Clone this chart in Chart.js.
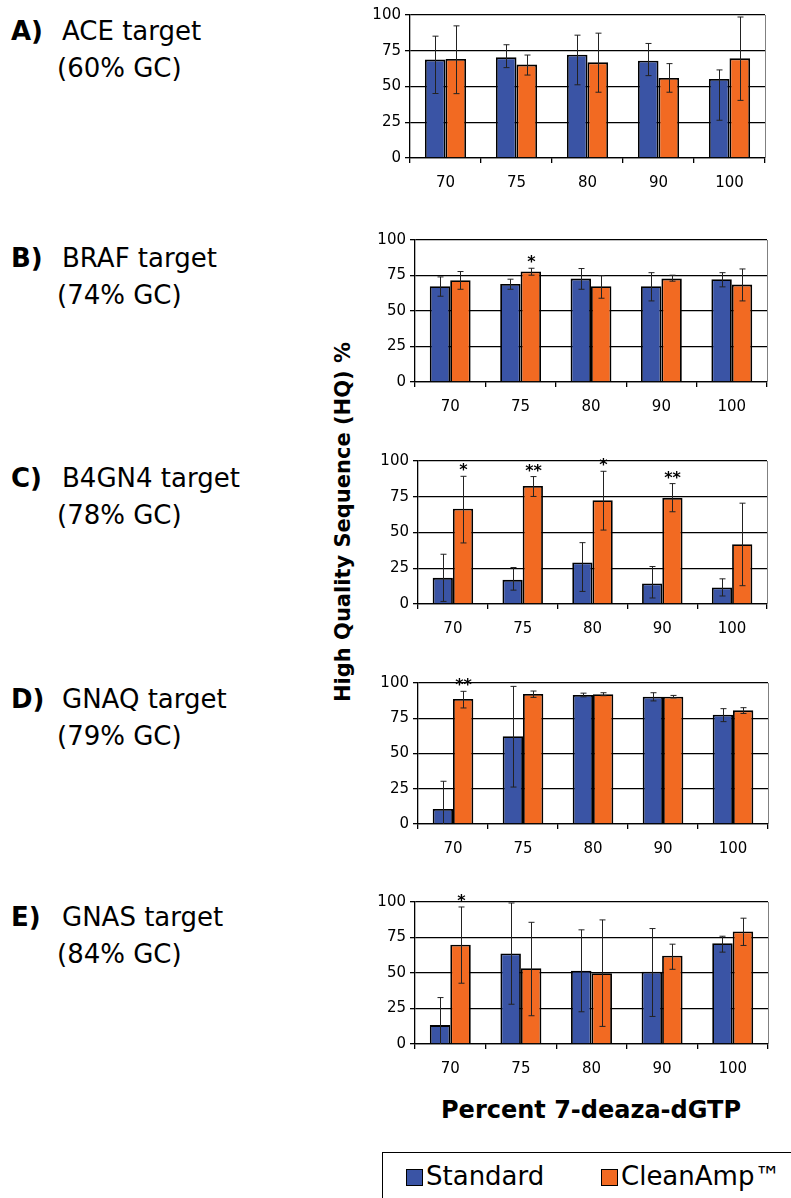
<!DOCTYPE html>
<html>
<head>
<meta charset="utf-8">
<script src="https://cdn.jsdelivr.net/npm/chart.js@4.4.0/dist/chart.umd.min.js"></script>
<style>
  body { margin: 0; background: #fff; }
  #page { position: relative; width: 791px; height: 1198px; overflow: hidden; font-family: "DejaVu Sans", sans-serif; color: #000; }
  #page canvas { position: absolute; }
  .lbl { position: absolute; font-size: 26px; line-height: 26px; white-space: nowrap; }
  .ttl { position: absolute; font-weight: bold; white-space: nowrap; }
  #legend { position: absolute; left: 382px; top: 1152px; width: 500px; height: 100px; border: 1.5px solid #000; }
  .sw { position: absolute; width: 15px; height: 15px; border: 1.5px solid #000; }
</style>
</head>
<body>
<div id="page"></div>
<script>
const categories = ['70', '75', '80', '90', '100'];
const yTicks = [0, 25, 50, 75, 100];

// A) ACE
const aceStandard = [68.8, 70.4, 72.2, 68.0, 55.3];
const aceStandardLow = [45.1, 63.2, 51.2, 57.6, 26.4];
const aceStandardHigh = [85.2, 79.2, 85.9, 80.1, 61.6];
const aceClean = [69.2, 65.3, 66.9, 56.0, 69.7];
const aceCleanLow = [45.0, 58.0, 46.0, 46.0, 40.3];
const aceCleanHigh = [92.4, 72.0, 87.3, 66.0, 98.6];
const aceStars = ['', '', '', '', ''];

// B) BRAF
const brafStandard = [67.4, 69.1, 72.8, 67.4, 72.4];
const brafStandardLow = [60.4, 65.3, 65.3, 57.1, 67.0];
const brafStandardHigh = [74.0, 72.4, 79.9, 77.0, 77.0];
const brafClean = [71.7, 77.8, 67.4, 72.8, 68.6];
const brafCleanLow = [65.3, 75.2, 59.0, 71.0, 57.1];
const brafCleanHigh = [77.8, 80.1, 74.9, 75.2, 79.6];
const brafStars = ['', '*', '', '', ''];

// C) B4GN4
const b4gn4Standard = [18.3, 16.9, 29.0, 14.4, 11.6];
const b4gn4StandardLow = [1.8, 9.7, 8.8, 4.2, 5.6];
const b4gn4StandardHigh = [34.8, 25.5, 42.9, 26.2, 17.6];
const b4gn4Clean = [66.6, 82.6, 72.6, 74.2, 41.8];
const b4gn4CleanLow = [42.7, 75.2, 51.7, 64.5, 12.8];
const b4gn4CleanHigh = [89.3, 89.1, 92.8, 84.2, 70.5];
const b4gn4Stars = ['*', '**', '*', '**', ''];

// D) GNAQ
const gnaqStandard = [10.6, 62.2, 91.5, 90.3, 77.5];
const gnaqStandardLow = [0, 26.2, 90.2, 87.3, 72.6];
const gnaqStandardHigh = [30.3, 97.6, 92.8, 93.1, 81.8];
const gnaqClean = [88.7, 92.2, 92.1, 90.3, 80.6];
const gnaqCleanLow = [82.3, 89.8, 91.0, 89.4, 78.4];
const gnaqCleanHigh = [94.1, 94.3, 93.1, 91.2, 82.5];
const gnaqStars = ['**', '', '', '', ''];

// E) GNAS
const gnasStandard = [13.3, 63.8, 51.6, 50.9, 71.0];
const gnasStandardLow = [0, 28.0, 22.7, 19.4, 64.7];
const gnasStandardHigh = [32.7, 99.3, 80.4, 81.3, 75.9];
const gnasClean = [69.9, 53.3, 49.8, 62.1, 79.2];
const gnasCleanLow = [42.8, 19.9, 12.4, 52.6, 69.4];
const gnasCleanHigh = [96.5, 85.7, 87.4, 70.3, 88.6];
const gnasStars = ['*', '', '', '', ''];

const panelLetters = ['A)', 'B)', 'C)', 'D)', 'E)'];
const panelNames = ['ACE target', 'BRAF target', 'B4GN4 target', 'GNAQ target', 'GNAS target'];
const panelGC = ['(60% GC)', '(74% GC)', '(78% GC)', '(79% GC)', '(84% GC)'];
const seriesNames = ['Standard', 'CleanAmp\u2122'];

const panelData = [
  [aceStandard, aceStandardLow, aceStandardHigh, aceClean, aceCleanLow, aceCleanHigh, aceStars],
  [brafStandard, brafStandardLow, brafStandardHigh, brafClean, brafCleanLow, brafCleanHigh, brafStars],
  [b4gn4Standard, b4gn4StandardLow, b4gn4StandardHigh, b4gn4Clean, b4gn4CleanLow, b4gn4CleanHigh, b4gn4Stars],
  [gnaqStandard, gnaqStandardLow, gnaqStandardHigh, gnaqClean, gnaqCleanLow, gnaqCleanHigh, gnaqStars],
  [gnasStandard, gnasStandardLow, gnasStandardHigh, gnasClean, gnasCleanLow, gnasCleanHigh, gnasStars]
];

// layout: plot area [left, top, right, bottom] and label baseline per panel
const layout = [
  { plot: [410, 14, 765, 158], base: 40 },
  { plot: [415, 240, 767, 382], base: 267 },
  { plot: [418, 461, 767, 604], base: 487 },
  { plot: [418, 683, 768, 824], base: 708 },
  { plot: [415, 902, 768, 1044], base: 926 }
];

const BLUE = '#3a54a5';
const ORANGE = '#f26a22';
const CANVAS_LEFT = 355;
const CANVAS_RIGHT = 785;
const tickFont = { family: 'DejaVu Sans', size: 15 };

const page = document.getElementById('page');

const errorBars = {
  id: 'errorBars',
  afterDatasetsDraw(chart) {
    const ctx = chart.ctx, y = chart.scales.y, area = chart.chartArea;
    ctx.save();
    chart.data.datasets.forEach((ds, i) => {
      chart.getDatasetMeta(i).data.forEach((bar, j) => {
        const top = y.getPixelForValue(ds.errHigh[j]);
        const bot = y.getPixelForValue(ds.errLow[j]);
        const x = Math.round(bar.x) + 0.5;
        ctx.strokeStyle = '#222';
        ctx.lineWidth = 1;
        ctx.beginPath();
        ctx.moveTo(x, top); ctx.lineTo(x, bot);
        ctx.moveTo(x - 3, top); ctx.lineTo(x + 3, top);
        if (ds.errLow[j] > 0) { ctx.moveTo(x - 3, bot); ctx.lineTo(x + 3, bot); }
        ctx.stroke();
        if (ds.stars && ds.stars[j]) {
          ctx.fillStyle = '#000';
          ctx.font = 'bold 16px "DejaVu Sans"';
          ctx.textAlign = 'center';
          ctx.textBaseline = 'alphabetic';
          ctx.fillText(ds.stars[j], x, top - 1);
        }
      });
    });
    ctx.strokeStyle = '#808080';
    ctx.lineWidth = 1;
    ctx.beginPath();
    ctx.moveTo(Math.round(area.right) + 0.5, area.top);
    ctx.lineTo(Math.round(area.right) + 0.5, area.bottom);
    ctx.stroke();
    ctx.restore();
  }
};

function addText(cls, text, left, top, extra) {
  const d = document.createElement('div');
  d.className = cls;
  d.textContent = text;
  d.style.left = left + 'px';
  d.style.top = top + 'px';
  if (extra) Object.assign(d.style, extra);
  page.appendChild(d);
  return d;
}

layout.forEach((p, k) => {
  const [l, t, r, b] = p.plot;
  const padTop = Math.min(20, t - 2);
  const xHeight = 40;
  const canvas = document.createElement('canvas');
  const w = CANVAS_RIGHT - CANVAS_LEFT;
  const h = b - t + padTop + xHeight;
  canvas.width = w; canvas.height = h;
  canvas.style.left = CANVAS_LEFT + 'px';
  canvas.style.top = (t - padTop) + 'px';
  canvas.style.width = w + 'px';
  canvas.style.height = h + 'px';
  page.appendChild(canvas);

  const [std, stdLo, stdHi, cln, clnLo, clnHi, stars] = panelData[k];
  new Chart(canvas, {
    type: 'bar',
    data: {
      labels: categories,
      datasets: [
        { label: seriesNames[0], data: std, errLow: stdLo, errHigh: stdHi,
          backgroundColor: BLUE, borderColor: '#000', borderWidth: 1.8,
          categoryPercentage: 0.58, barPercentage: 1 },
        { label: seriesNames[1], data: cln, errLow: clnLo, errHigh: clnHi, stars: stars,
          backgroundColor: ORANGE, borderColor: '#000', borderWidth: 1.8,
          categoryPercentage: 0.58, barPercentage: 1 }
      ]
    },
    options: {
      responsive: false,
      animation: false,
      devicePixelRatio: 1,
      layout: { padding: { top: padTop, right: CANVAS_RIGHT - r, left: 0, bottom: 0 } },
      plugins: { legend: { display: false }, tooltip: { enabled: false } },
      scales: {
        x: {
          grid: { offset: true, drawOnChartArea: false, color: '#000', lineWidth: 1.3, tickLength: 5 },
          border: { color: '#000', width: 1.3 },
          ticks: { color: '#000', font: tickFont, padding: 11, maxRotation: 0 },
          afterFit(s) { s.height = xHeight; }
        },
        y: {
          min: 0, max: 100,
          afterBuildTicks(s) { s.ticks = yTicks.map(v => ({ value: v })); },
          grid: { color: '#000', lineWidth: 1.3, tickLength: 5 },
          border: { color: '#000', width: 1.3 },
          ticks: { color: '#000', font: tickFont, padding: 4 },
          afterFit(s) { s.width = l - CANVAS_LEFT; }
        }
      }
    },
    plugins: [errorBars]
  });

  const lt = addText('lbl', panelLetters[k], 11, p.base - 22);
  lt.style.fontWeight = 'bold';
  addText('lbl', panelNames[k], 62, p.base - 22);
  addText('lbl', panelGC[k], 57, p.base + 15);
});

addText('ttl', 'High Quality Sequence (HQ) %', 343, 522,
  { fontSize: '21px', transform: 'translate(-50%, -50%) rotate(-90deg)' });
addText('ttl', 'Percent 7-deaza-dGTP', 591, 1110,
  { fontSize: '24px', transform: 'translate(-50%, -50%)' });

const legend = document.createElement('div');
legend.id = 'legend';
page.appendChild(legend);
[[BLUE, 405, 425], [ORANGE, 600, 620]].forEach(([c, sx, tx], i) => {
  const sw = document.createElement('div');
  sw.className = 'sw';
  sw.style.background = c;
  sw.style.left = (sx - 382) + 'px';
  sw.style.top = (1168 - 1152) + 'px';
  legend.appendChild(sw);
  const t = document.createElement('div');
  t.className = 'lbl';
  t.textContent = seriesNames[i];
  t.style.left = (tx - 382) + 'px';
  t.style.top = (1184 - 22 - 1152) + 'px';
  legend.appendChild(t);
});
</script>
</body>
</html>
